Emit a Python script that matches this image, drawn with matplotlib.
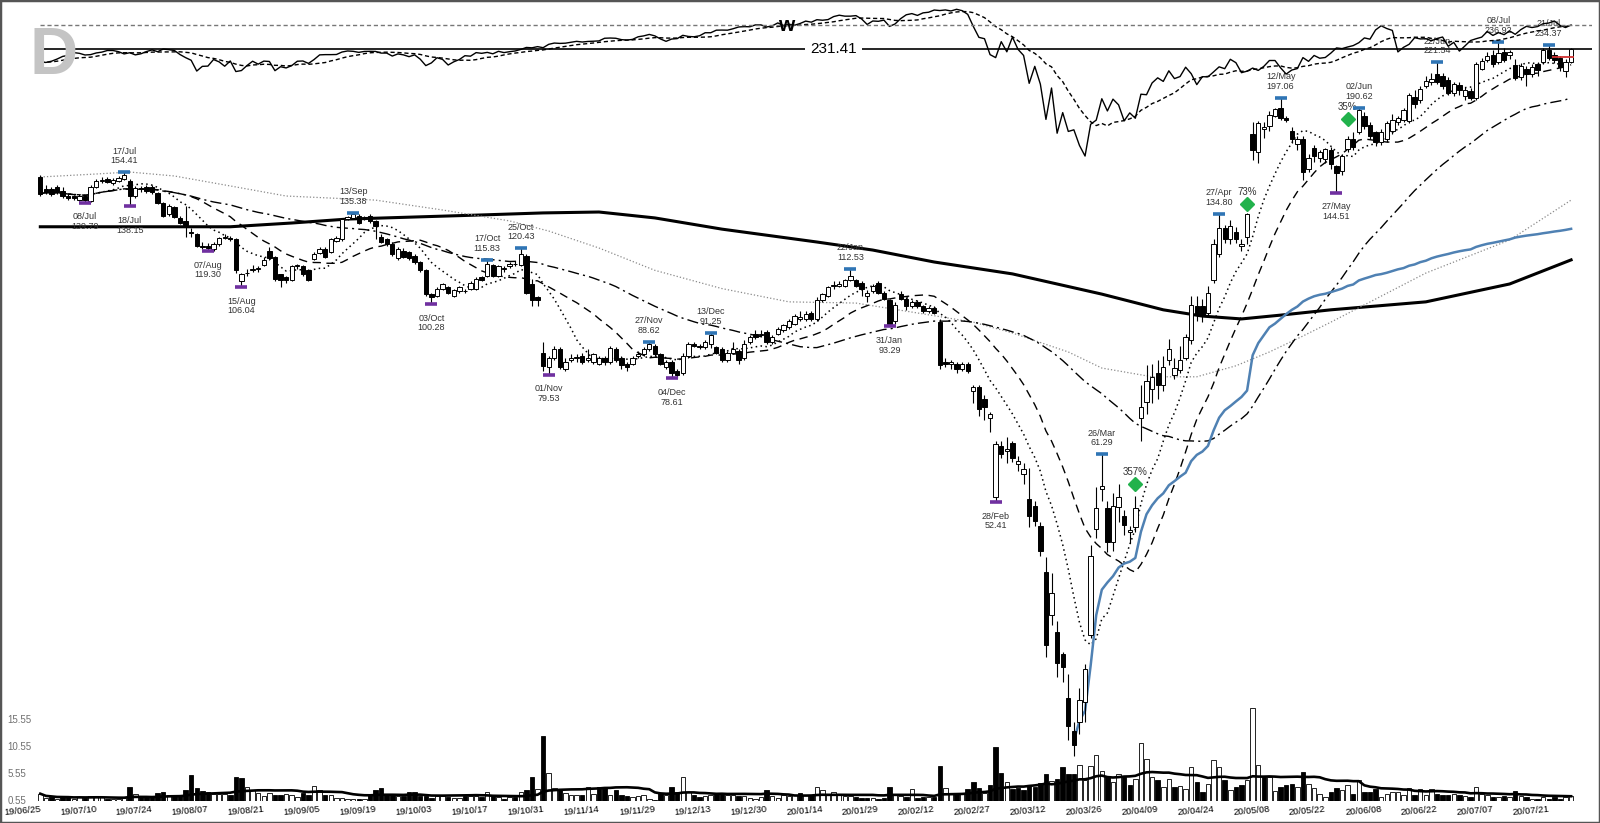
import numpy as np
import pandas as pd
import matplotlib
matplotlib.use('Agg')
import matplotlib.pyplot as plt
from matplotlib.patches import Rectangle

plt.rcParams['font.family'] = ['Liberation Sans', 'DejaVu Sans']

# x axis labels, one every 10 sessions
tick_labels = ['19/06/25', '19/07/10', '19/07/24', '19/08/07', '19/08/21', '19/09/05',
               '19/09/19', '19/10/03', '19/10/17', '19/10/31', '19/11/14', '19/11/29',
               '19/12/13', '19/12/30', '20/01/14', '20/01/29', '20/02/12', '20/02/27',
               '20/03/12', '20/03/26', '20/04/09', '20/04/24', '20/05/08', '20/05/22',
               '20/06/08', '20/06/22', '20/07/07', '20/07/21']

# daily candles
opens = [
    152, 146, 146, 147, 145.5, 143, 143, 141, 143, 140.5,
    147, 150, 151, 149, 150, 151, 150, 143, 146.5, 147,
    147, 144.5, 139.5, 134.6, 138, 133, 131.5, 127, 126, 121.5,
    121.5, 120, 122, 124.5, 124.5, 124, 108, 111, 112, 112.5,
    114, 119.5, 117, 110.5, 109.5, 108.5, 113.5, 113.5, 112, 116.3,
    118.5, 120, 119, 123.5, 124, 132.5, 133, 134, 132.5, 134,
    131.5, 125, 124, 122, 116.5, 119.5, 119, 117.5, 115, 112,
    103.5, 103, 105.5, 106, 103, 104.5, 104.8, 105.5, 105.5, 109.5,
    110, 114, 110, 112.5, 113.5, 114.5, 114, 117.5, 107, 102.5,
    85.3, 81.5, 84, 86.5, 81, 83.5, 84, 84.5, 83.5, 83,
    82.5, 84, 83, 86.5, 84, 82.5, 82.5, 84.5, 85, 86.5,
    87.5, 85, 81.5, 83, 80.5, 80, 84.5, 88, 87.5, 87,
    88, 87, 86.5, 83.5, 85.5, 86, 84, 88.5, 91, 90.5,
    91.5, 88.5, 91, 92, 93, 94, 95.5, 95.5, 97.5, 95.5,
    101.5, 103, 106.5, 106.5, 106.5, 108.5, 108.5, 107.5, 103, 104.5,
    107.5, 104, 101.5, 95, 103.5, 102, 99.5, 101, 99.5, 98,
    99, 94.5, 83, 82.5, 82.5, 81, 82.5, 75.5, 76.5, 73.5,
    69, 53.3, 63, 62, 63.5, 59.3, 57.5, 53, 51.7, 48.4,
    41.7, 36.2, 34.2, 31.8, 27.6, 24.7, 25.5, 27.2, 33.9, 48,
    54.7, 51.3, 46, 51.5, 50, 47.5, 48.2, 69, 72.7, 76,
    80, 77, 83.5, 79.5, 80.8, 84, 89, 99.8, 99.8, 97.3,
    108.5, 118.2, 128.5, 124, 127, 121.5, 125, 175, 165, 178,
    180, 186, 191, 184.5, 177, 169.5, 172.5, 156, 167, 162,
    161.5, 166, 157.5, 155, 166.5, 172.5, 176, 185.5, 180.5, 176,
    170.5, 172, 177, 182, 183.5, 183, 198, 195.5, 205, 207.5,
    213.5, 212, 209, 200.5, 205.5, 198.5, 201.5, 197, 217, 223,
    227, 222, 229, 227, 219.5, 211, 217, 213, 220.5, 222,
    231, 227, 224.5, 215, 222]

highs = [
    153, 148, 147, 148, 147, 144, 143.5, 144, 143.5, 148,
    151, 152, 152, 151.5, 152.5, 154.41, 151, 147.5, 147.5, 148,
    148, 145, 140, 139, 138.5, 134, 138.5, 128.5, 126.5, 123,
    122.5, 123, 125, 126, 125.5, 124.5, 111, 112.5, 114, 113.5,
    117, 121, 117.5, 110.5, 110, 114, 114.5, 114, 112.5, 119,
    121, 121, 124.5, 125.5, 133, 134, 135.38, 134.5, 134, 134.5,
    132, 126, 124.5, 123, 121, 120.5, 119.5, 118, 115.5, 112.5,
    104, 106, 107.5, 106.5, 105.5, 106.5, 105.5, 108, 109.5, 110,
    115.83, 114.5, 114, 113.5, 115, 115.5, 120.43, 118, 109, 103,
    88.5, 84.5, 87.5, 87, 84, 85, 85, 85.5, 86.5, 85.5,
    84.5, 84.5, 87.5, 87, 84.5, 83, 84.5, 86, 87, 88.62,
    88, 85.5, 83.5, 83.5, 81, 85.5, 88.5, 88.5, 88, 89,
    91.25, 87.5, 87, 86, 88.5, 86.5, 89, 90.5, 92, 92,
    92, 90.5, 93, 94, 95.5, 97, 98, 98, 98, 102.5,
    104, 106.5, 108, 108, 109, 112.53, 109, 108, 105, 107,
    108, 104.5, 102, 101, 104.5, 102.5, 101.5, 101.5, 100, 99.5,
    99.5, 95.5, 84, 83.5, 83, 83, 83, 77, 77, 74.5,
    70.5, 64, 64, 64.8, 64, 61, 59.5, 58.5, 52.5, 49,
    43.8, 41.5, 35.5, 32, 29.8, 25.5, 28.5, 30.8, 45.5, 55,
    61.29, 52.5, 54, 55.5, 51, 48.5, 53.5, 77, 82, 82.5,
    83.5, 84.5, 89.5, 84, 87.5, 91, 103, 103, 102, 106.5,
    124, 134.8, 130, 132, 129, 124, 135, 182, 183, 182,
    189, 191, 197.06, 186, 179, 174, 174, 164, 169, 166,
    167.5, 168, 158, 164, 174, 176, 190.62, 188, 182, 177,
    178, 183, 187, 186, 191, 200.5, 202, 205, 212, 214,
    221.54, 214, 211, 208, 207.5, 204, 203.5, 222, 225, 229.5,
    231, 236.92, 232, 231, 224, 221, 219, 220, 222, 232,
    234.37, 229, 226.5, 224, 232.5]

lows = [
    143, 144, 143, 144, 142, 141, 141, 140.5, 139.79, 140,
    146.5, 149, 149, 148, 149.5, 150.5, 138.15, 142, 145, 144.5,
    144, 139, 133.5, 134, 133, 130.5, 125, 125, 121, 120,
    119.3, 119.5, 121.5, 124, 123.5, 111, 106.04, 110, 111.5, 111.5,
    113.5, 116, 108, 106, 107.5, 108, 112.5, 110, 108, 116,
    118, 116.5, 118.5, 123, 123.5, 132, 132.5, 130.5, 132, 131,
    124, 122.5, 121.5, 117.5, 116, 116.5, 116, 114.5, 111.5, 103,
    100.28, 102.5, 105, 103.5, 102.5, 104, 104, 105, 105, 108,
    109.5, 109.5, 109.5, 111.5, 113, 113.5, 113.5, 103.5, 99.5, 99.5,
    80.5, 79.53, 83.5, 81, 80.5, 83, 83, 82.5, 83, 82.5,
    82, 82, 82.5, 83, 81, 80.5, 82, 84, 84.5, 86,
    84.5, 82, 81, 78.61, 78.8, 79.5, 84, 87, 86.5, 86.5,
    86.7, 85, 83, 83, 85, 82.5, 83.5, 88, 89.5, 90,
    88, 88, 90.5, 91.5, 92.5, 93.5, 95, 95, 95, 95,
    101, 102.5, 105.5, 106, 106, 108, 106, 103, 101, 104,
    103.5, 101.5, 93.29, 94, 101.5, 98.5, 99, 99, 97.5, 97.5,
    97, 81, 81.5, 81, 80, 80.5, 80, 72.5, 69.5, 68.5,
    66, 52.41, 60.5, 59.5, 59.8, 58, 55.5, 48.3, 48.5, 43.9,
    31.5, 35, 29.5, 29, 24, 22.8, 24.5, 25.5, 33.5, 46.5,
    52.5, 44.5, 44.6, 49, 47, 45.8, 47.5, 64, 70, 72.5,
    73.5, 75.5, 82, 78.5, 80, 83.5, 88, 95, 94.5, 96.5,
    107.5, 117, 122.5, 122, 122.5, 119.5, 122, 161, 159, 173,
    177, 185, 183.5, 182, 170, 166, 150.5, 154.5, 160, 160,
    159, 156, 144.51, 153, 165, 166, 175, 178, 172, 168.5,
    169, 170.5, 175, 180.5, 182, 181.5, 191, 194, 203.5, 205.5,
    206.5, 203, 199, 198.5, 199, 196, 195.5, 196, 216, 221.5,
    218.5, 220, 221.5, 224, 209, 209, 205, 211, 212, 220.5,
    223, 221, 215.5, 211, 221]

closes = [
    144, 145, 144, 145, 143, 142, 142, 143, 141, 147,
    150, 150.5, 149.5, 150.5, 151.5, 153, 143, 146.5, 146, 145.5,
    145, 139.5, 134, 138.3, 133.5, 131, 130, 126.5, 121.5, 121,
    120.5, 122, 124.5, 124.8, 124.3, 112, 110.5, 111, 112.5, 112.8,
    116, 116.5, 109, 108.5, 108.5, 113.5, 114, 110.7, 108.5, 118.2,
    120, 117, 124, 124.5, 132.4, 133.5, 134.5, 131, 133, 131.5,
    129.5, 123, 122, 118, 120, 117, 116.5, 115, 112, 103.5,
    102.5, 105.5, 107, 104, 105, 106, 104.5, 107.5, 109, 108.5,
    114.5, 110, 113.5, 112.8, 114.5, 114.3, 118, 104, 101.5, 101.5,
    81.8, 84, 86.5, 81.5, 83, 84, 84.3, 83, 84, 85,
    84, 83, 86.7, 83.5, 82, 81.5, 84, 85, 86.5, 88,
    85, 82.5, 83, 80, 79.5, 84.5, 88, 87.5, 87, 88.5,
    90.5, 85.5, 83.5, 85.5, 86.5, 83.5, 88, 90, 90, 91,
    88.5, 90, 92.5, 93.5, 95, 96.5, 96, 97, 95.5, 101.5,
    103.5, 106, 106.8, 107, 108.5, 110, 106.5, 105.5, 104, 106.5,
    104, 102, 94, 100, 102, 99.5, 101, 99.5, 98, 99,
    97.5, 82, 82.5, 83, 81, 82.5, 80.5, 76.5, 71, 71.5,
    70, 63.4, 61.3, 62.3, 60.5, 60, 58.3, 50, 49.2, 44.6,
    32.8, 38.9, 30.9, 30.5, 25.1, 23.6, 27.4, 30.3, 43.9, 51.3,
    55.3, 45.9, 51.8, 53.3, 48.6, 47.8, 51.3, 71.5, 77.8, 79,
    77, 81.5, 86.5, 81.3, 83.6, 90, 100, 96.8, 96.5, 104,
    122, 128.5, 124, 129.5, 124, 122.2, 134.5, 166, 181.5, 179,
    186.5, 190, 184.5, 183.5, 172.5, 172.5, 154.5, 162, 163, 165,
    166.5, 158.5, 154, 163, 172, 168, 189.5, 179.5, 174, 170.5,
    176.5, 181.5, 183.5, 184.5, 189.5, 199, 193, 203, 208.5, 210,
    208, 205, 200.5, 206, 202, 202.5, 197, 220, 222.5, 226,
    220, 228.5, 223, 229, 210.5, 219, 213, 218.5, 216, 230.5,
    224.5, 223, 218.5, 221.5, 231.41]

# volume (same units as the chart's volume scale)
volumes = [
    1.9, 1.1, 1.2, 1.0, 1.2, 1.2, 0.9, 1.3, 1.1, 1.4,
    1.3, 1.2, 0.9, 0.9, 0.9, 1.1, 3.1, 1.9, 1.4, 1.2,
    1.3, 2.1, 2.2, 1.7, 1.6, 1.5, 2.6, 5.3, 2.9, 2.4,
    2.3, 1.8, 1.9, 1.8, 1.7, 5.0, 4.8, 3.1, 2.6, 2.0,
    1.5, 2.0, 1.6, 1.6, 1.9, 1.6, 1.3, 2.0, 1.6, 3.3,
    2.6, 1.6, 1.6, 1.1, 1.1, 1.0, 0.9, 1.0, 1.0, 1.8,
    2.6, 2.9, 1.7, 1.6, 1.4, 1.5, 2.2, 2.2, 1.5, 1.4,
    1.1, 1.4, 1.5, 1.3, 1.1, 1.1, 1.4, 1.5, 1.5, 1.3,
    2.2, 1.5, 1.3, 0.9, 1.2, 1.2, 2.2, 2.6, 5.0, 2.8,
    12.5, 5.7, 2.9, 2.6, 2.0, 1.6, 1.6, 1.7, 3.2, 1.9,
    3.2, 3.2, 1.6, 2.6, 1.6, 1.4, 1.3, 1.4, 1.7, 1.0,
    0.7, 2.0, 1.6, 3.2, 2.3, 5.0, 2.3, 1.6, 1.3, 1.4,
    1.6, 2.0, 2.0, 1.7, 1.7, 1.4, 1.4, 1.1, 1.0, 1.2,
    2.6, 1.4, 1.1, 1.6, 1.4, 1.6, 2.0, 1.6, 1.6, 3.2,
    2.6, 1.6, 2.3, 1.6, 1.4, 1.4, 1.3, 1.1, 1.1, 1.1,
    1.0, 1.1, 3.2, 1.6, 1.4, 1.2, 2.8, 1.1, 1.2, 1.2,
    1.2, 7.0, 2.9, 1.9, 1.9, 1.9, 2.8, 4.1, 2.9, 2.0,
    3.5, 10.6, 5.7, 4.1, 2.8, 2.9, 2.6, 3.6, 3.2, 3.8,
    5.5, 4.3, 4.6, 6.8, 5.5, 5.5, 7.2, 4.4, 7.0, 9.0,
    6.1, 5.0, 4.1, 5.5, 5.0, 3.5, 4.7, 11.2, 8.4, 5.0,
    4.4, 3.1, 4.7, 3.1, 3.3, 2.7, 6.8, 4.0, 2.3, 3.7,
    8.2, 6.8, 4.5, 2.6, 3.2, 3.5, 4.5, 17.8, 7.2, 5.0,
    5.0, 2.4, 3.2, 3.5, 3.7, 3.2, 6.0, 3.7, 2.9, 1.9,
    1.3, 2.3, 2.9, 2.6, 3.5, 1.9, 4.5, 2.3, 2.3, 2.7,
    1.3, 1.9, 2.3, 2.3, 1.6, 2.9, 1.6, 2.7, 1.6, 2.7,
    1.9, 1.6, 1.6, 1.9, 1.6, 1.4, 1.2, 3.1, 1.9, 1.6,
    1.2, 1.3, 1.4, 1.3, 2.4, 1.4, 1.3, 1.0, 1.0, 1.2,
    1.0, 1.2, 1.0, 1.3, 1.4]

# market index overlay (top line)
spx = [
    2917, 2914, 2924, 2942,
    2964, 2973, 2996, 2990, 2976, 2979, 2993, 3000, 3014, 3014, 3004, 2985, 2995, 2977,
    2986, 3005, 3019, 3004, 3026, 3021, 3014, 2980,
    2954, 2932, 2844, 2882, 2884, 2938, 2919, 2883, 2926, 2840, 2848, 2889, 2924, 2900,
    2925, 2922, 2847, 2879, 2869, 2888, 2924, 2926,
    2906, 2938, 2977, 2979, 2979, 2980, 3001, 3010, 3007, 2998, 3006, 3007, 3006, 2992,
    2992, 2967, 2985, 2977, 2962, 2977,
    2941, 2888, 2910, 2953, 2939, 2893, 2919, 2938, 2970, 2966, 2996, 2990, 2998, 2986,
    3007, 2996, 3004, 3010, 3023, 3040, 3037, 3047, 3038,
    3067, 3078, 3075, 3077, 3085, 3093, 3087, 3092, 3094, 3097, 3120, 3122, 3120, 3108,
    3104, 3110, 3133, 3141, 3154, 3141,
    3114, 3093, 3113, 3117, 3146, 3136, 3133, 3142, 3169, 3169, 3192, 3193, 3192, 3205,
    3221, 3224, 3223, 3240, 3240, 3221, 3231,
    3258, 3235, 3246, 3237, 3253, 3275, 3265, 3288, 3283, 3289, 3317, 3330, 3321, 3321,
    3326, 3295, 3244, 3276, 3273, 3284, 3226,
    3249, 3298, 3334, 3345, 3328, 3352, 3358, 3379, 3374, 3380, 3370, 3386, 3373, 3338,
    3226, 3128, 3116, 2979, 2954,
    3090, 3003, 3130, 3024, 2972, 2747, 2882, 2741, 2481, 2711, 2386, 2529, 2398, 2409,
    2305, 2237, 2447, 2476, 2630, 2541, 2627, 2585,
    2471, 2527, 2489, 2664, 2660, 2750, 2790, 2762, 2846, 2784, 2800, 2875, 2823, 2737,
    2799, 2798, 2837, 2878, 2863, 2940, 2912,
    2831, 2843, 2868, 2849, 2882, 2930, 2930, 2870, 2820, 2852, 2864, 2954, 2923, 2972,
    2949, 2955, 2992, 3036, 3030, 3044,
    3056, 3081, 3123, 3112, 3194, 3232, 3207, 3190, 3002, 3041, 3067, 3125, 3114, 3116,
    3098, 3118, 3131, 3050, 3084, 3009, 3053, 3100,
    3116, 3130, 3180, 3145, 3170, 3152, 3185, 3155, 3197, 3227, 3216, 3225, 3251, 3257,
    3276, 3236, 3216, 3239]

# long averages (they need history before the first bar)
ma100_idx = [0, 10, 16, 24, 34, 44, 60, 72, 84, 91, 100, 110, 122, 134, 146, 158, 167,
             174, 184, 190, 199, 207, 214, 220, 226, 231, 248, 263, 274]
ma100_val = [152.1, 153.6, 154.6, 152.6, 147.7, 142.9, 141.0, 136.5, 131.7, 127.4, 120.5,
             112.0, 105.5, 101.0, 100.6, 97.1, 94.5, 91.2, 85.7, 81.3, 79.0, 79.0, 81.9,
             85.7, 90.3, 94.5, 111.0, 123.7, 141.0]
ma200_idx = [0, 34, 45, 55, 67, 79, 90, 100, 110, 122, 139, 149, 160, 174, 190, 201, 208,
             215, 222, 231, 248, 263, 274]
ma200_val = [129.2, 129.2, 130.8, 132.5, 133.4, 134.3, 135.2, 135.6, 133.0, 128.2, 122.9,
             119.7, 115.1, 110.7, 103.6, 98.4, 96.4, 95.5, 96.7, 98.4, 101.0, 107.1, 115.9]

# swing labels
high_idx = [15, 56, 80, 86, 109, 120, 145, 190, 211, 222, 236, 250, 261, 270]
high_dates = ['17/Jul', '13/Sep', '17/Oct', '25/Oct', '27/Nov', '13/Dec', '22/Jan',
              '26/Mar', '27/Apr', '12/May', '02/Jun', '22/Jun', '08/Jul', '21/Jul']
low_idx = [8, 16, 30, 36, 70, 91, 113, 152, 171, 232]
low_dates = ['08/Jul', '18/Jul', '07/Aug', '15/Aug', '03/Oct', '01/Nov', '04/Dec',
             '31/Jan', '28/Feb', '27/May']

# green signal diamonds
sig_idx = [196, 216, 234]
sig_price = [55.6, 139.2, 184.0]
sig_text = ['357%', '73%', '35%']

stop_level = 225.6
vol_ticks = [0.55, 5.55, 10.55, 15.55]

o = np.array(opens, float)
h = np.array(highs, float)
l = np.array(lows, float)
c = np.array(closes, float)
v = np.array(volumes, float)
n = len(c)
assert len(o) == len(h) == len(l) == len(v) == len(spx) == n
x = np.arange(n)

cs = pd.Series(c)
ma10 = cs.rolling(10, min_periods=1).mean()
ma20 = cs.rolling(20, min_periods=1).mean()
ma50 = cs.rolling(50, min_periods=1).mean()
vol_ma = pd.Series(v).rolling(20, min_periods=1).mean()
spx_ma = pd.Series(spx, dtype=float).rolling(10, min_periods=1).mean()

# VWAP anchored at the lowest low
a0 = int(np.argmin(l))
tp = (h + l + c) / 3
vwap = np.cumsum(tp[a0:] * v[a0:]) / np.cumsum(v[a0:])

fig = plt.figure(figsize=(16, 8.23), dpi=100)
rect = [4 / 1600, 22 / 823, 1588 / 1600, 797 / 823]
ax_v = fig.add_axes(rect)
ax = fig.add_axes(rect, sharex=ax_v)
ax_m = fig.add_axes(rect, sharex=ax_v)
for a in (ax, ax_m):
    a.patch.set_alpha(0)
    a.axis('off')
for s in ax_v.spines.values():
    s.set_visible(False)

ax_v.set_xlim(-6.5, 277.74)
ax.set_yscale('log')
ax.set_ylim(19.66, 268.2)
ax_m.set_yscale('log')
ax_m.set_ylim(361.8, 3437)
ax_v.set_ylim(0.55, 0.55 + 797 / 5.4)

# volume
prev = np.r_[c[0], c[:-1]]
vcol = np.where(c >= prev, 'white', 'black')
ax_v.bar(x, v - 0.55, bottom=0.55, width=0.8, color=vcol, edgecolor='black', lw=0.6)
ax_v.plot(x, vol_ma, color='black', lw=1.9)
ax_v.set_yticks([])
for t in vol_ticks:
    ax_v.text(0.002, t, f'{t:.2f}', transform=ax_v.get_yaxis_transform(),
              ha='left', va='center', fontsize=7, color='#707070')
ax_v.set_xticks(np.arange(0, n, 10))
ax_v.set_xticklabels(tick_labels, rotation=5, ha='right', rotation_mode='anchor')
ax_v.tick_params(axis='x', length=0, pad=3, labelsize=6.8)

# market overlay
ax_m.plot(x, spx, color='black', lw=1.0)
ax_m.plot(x, spx_ma, color='black', lw=1.0, dashes=(3, 2))
ax_m.hlines(spx[-1], 0, 277.74, color='#777777', lw=1.0, linestyles=(0, (3, 2)))
ax_m.text(133.5, spx[-1], 'w', ha='center', va='center', fontsize=15, fontweight='bold')

# moving averages
ax.plot(ma200_idx, ma200_val, color='black', lw=2.2, zorder=2)
ax.plot(ma100_idx, ma100_val, color='#8a8a8a', lw=0.9, ls=':', zorder=2)
ax.plot(x, ma50, color='black', lw=1.0, dashes=(8, 3, 1.5, 3), zorder=2)
ax.plot(x, ma20, color='black', lw=1.0, dashes=(6, 4), zorder=2)
ax.plot(x, ma10, color='black', lw=1.1, dashes=(1, 2.2), zorder=2)
ax.plot(x[a0:], vwap, color='#4f81b3', lw=1.8, zorder=2)

# last close line
ax.hlines(c[-1], 0, 277.74, color='black', lw=1.2, zorder=2)
ax.text(142, c[-1], f'{c[-1]:.2f}', ha='center', va='center', fontsize=11, zorder=5,
        bbox=dict(fc='white', ec='none', pad=4))
ax.hlines(stop_level, n - 4.5, n - 0.5, color='#d03030', lw=1.3, zorder=5)

# candles
up = c >= o
ax.vlines(x, l, h, color='black', lw=0.8, zorder=3)
ax.bar(x, np.abs(c - o), bottom=np.minimum(o, c), width=0.78,
       color=np.where(up, 'white', 'black'), edgecolor='black', lw=0.7, zorder=4)

# swing highs / lows
ax.plot(high_idx, h[high_idx], ls='none', marker='_', ms=8, mew=2.6, color='#2f75b5', zorder=5)
ax.plot(low_idx, l[low_idx], ls='none', marker='_', ms=8, mew=2.6, color='#7030a0', zorder=5)
for i, d in zip(high_idx, high_dates):
    ax.annotate(f'{d}\n{h[i]:.2f}', (i, h[i]), xytext=(0, 5), textcoords='offset points',
                ha='center', va='bottom', fontsize=6.5, color='#333333', linespacing=1.1)
for i, d in zip(low_idx, low_dates):
    ax.annotate(f'{d}\n{l[i]:.2f}', (i, l[i]), xytext=(0, -7), textcoords='offset points',
                ha='center', va='top', fontsize=6.5, color='#333333', linespacing=1.1)

# signals
ax.plot(sig_idx, sig_price, ls='none', marker='D', ms=7.5, color='#22b24c', zorder=5)
for i, p, t in zip(sig_idx, sig_price, sig_text):
    ax.annotate(t, (i, p), xytext=(0, 5), textcoords='offset points',
                ha='center', va='bottom', fontsize=7, color='#333333')

fig.text(29 / 1600, 1 - 26 / 823, 'D', fontsize=48, fontweight='bold', color='#c4c4c4',
         ha='left', va='top')
fig.patches.append(Rectangle((0, 0), 1, 1, transform=fig.transFigure, fill=False,
                             edgecolor='#555555', lw=2.5))

fig.savefig('out.png', dpi=100)
